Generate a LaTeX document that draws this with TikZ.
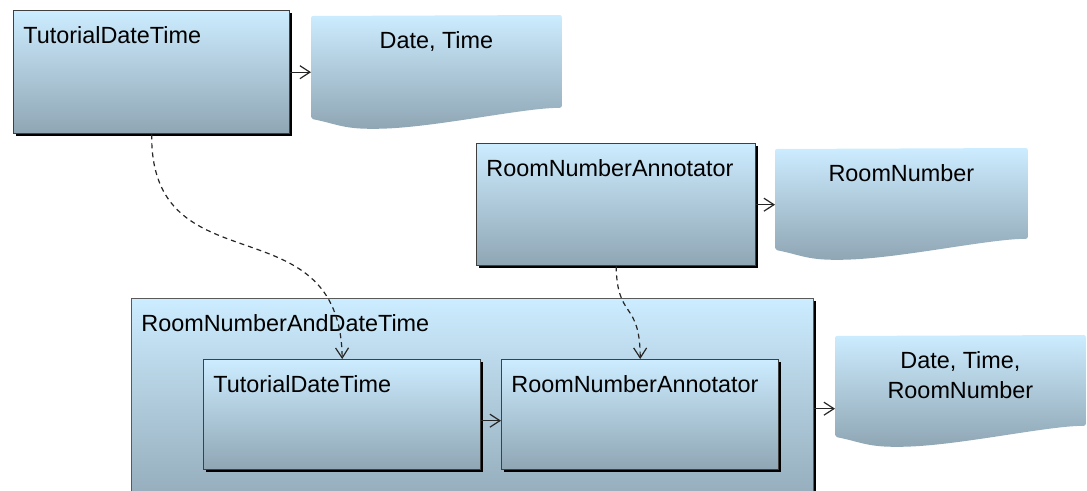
\documentclass[tikz,border=0pt]{standalone}
\usepackage{fontspec}
\setmainfont{Liberation Sans}
\usetikzlibrary{arrows.meta,backgrounds}
\definecolor{paletop}{RGB}{204,236,255}
\definecolor{palebot}{RGB}{143,166,180}
\tikzset{
  comp/.style={rectangle, draw=black!75, line width=0.7pt, top color=paletop, bottom color=palebot, anchor=north west},
  doc/.style={rectangle, anchor=north west},
  boxtitle/.style={anchor=north west, inner sep=0pt, xshift=5pt, yshift=-8pt},
  doctitle/.style={anchor=north, inner sep=0pt, yshift=-8pt, align=center},
  flow/.style={-{Straight Barb[length=5pt,width=6.5pt]}, line width=0.6pt, black!85},
  uses/.style={flow, dash pattern=on 2.5pt off 2pt},
}
% paper sheet with a wavy lower edge behind a doc node
\newcommand\docpaper[1]{
    \begin{scope}[on background layer]
    \shade[top color=paletop, bottom color=palebot, rounded corners=1pt]
        ([shift={(0,1)}]#1.north west) -- (#1.north east) -- (#1.south east)
        .. controls +(-40,0) and +(57,0) .. ([shift={(62,21)}]#1.south west)
        .. controls +(-30,0) and +(25,5) .. ([shift={(0,11)}]#1.south west) -- cycle;
    \end{scope}
}
\begin{document}
\begin{tikzpicture}[x=0.5pt, y=-0.5pt, font=\fontsize{11.7}{15}\selectfont]
    \path[use as bounding box, clip] (0,0) rectangle (1087,491);
    % stand-alone annotators
    \node[comp, minimum width=138pt, minimum height=61.5pt,
          label={[boxtitle]north west:TutorialDateTime}] (tdt) at (13,10) {};
    \node[doc, minimum width=125pt, minimum height=46pt,
          label={[doctitle]north:Date, Time}] (dt) at (311,15) {};
    \node[comp, minimum width=139.5pt, minimum height=61pt,
          label={[boxtitle]north west:RoomNumberAnnotator}] (rna) at (476,143) {};
    \node[doc, minimum width=126pt, minimum height=45pt,
          label={[doctitle]north:RoomNumber}] (rn) at (775,148) {};
    % aggregate
    \node[comp, draw=black!65, minimum width=341pt, minimum height=110pt,
          label={[boxtitle]north west:RoomNumberAndDateTime}] (agg) at (131,298) {};
    \node[comp, minimum width=138.5pt, minimum height=55pt,
          label={[boxtitle]north west:TutorialDateTime}] (itdt) at (203,359) {};
    \node[comp, minimum width=138.5pt, minimum height=55pt,
          label={[boxtitle]north west:RoomNumberAnnotator}] (irna) at (501,359) {};
    \node[doc, minimum width=125pt, minimum height=45pt,
          label={[doctitle]north:{Date, Time,\\RoomNumber}}] (out) at (835,335) {};

    \foreach \d in {dt,rn,out}
        \docpaper{\d};
    % dark shadow edges
    \foreach \b in {tdt,rna,agg,itdt,irna}
        \draw[line width=1.2pt] ([shift={(0.3pt,-1.5pt)}]\b.north east) -- ([shift={(0.3pt,-0.3pt)}]\b.south east)
            -- ([shift={(1.5pt,-0.3pt)}]\b.south west);

    \draw[flow] (tdt.east) -- (tdt.east -| dt.west);
    \draw[flow] (rna.east) -- (rna.east -| rn.west);
    \draw[flow] ([yshift=-3pt]itdt.east) -- ([yshift=-3pt]itdt.east -| irna.west);
    \draw[flow] (agg.east) -- (agg.east -| out.west);
    \draw[uses] (tdt.south) .. controls (150,290) and (340,200) .. (itdt.north);
    \draw[uses] (rna.south) .. controls (617,320) and (640,300) .. (irna.north);
\end{tikzpicture}
\end{document}
